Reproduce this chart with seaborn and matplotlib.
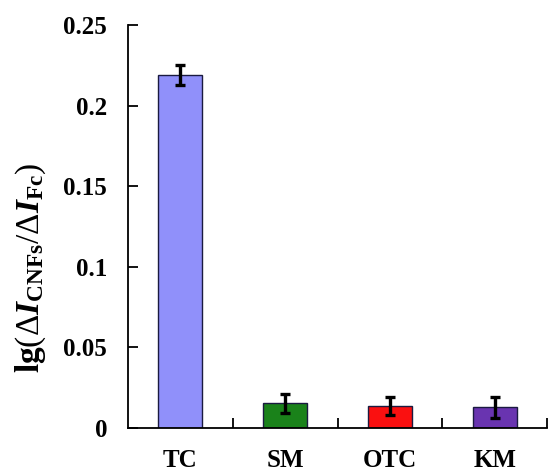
import matplotlib
matplotlib.use("Agg")
import matplotlib.pyplot as plt
import seaborn as sns
import pandas as pd
import numpy as np

categories = ["TC", "SM", "OTC", "KM"]
values = [0.219, 0.0152, 0.0138, 0.0128]
errors = [0.006, 0.006, 0.0055, 0.0065]
colors = ["#9090FA", "#1A821A", "#FA1010", "#6934B0"]
yticks = [0, 0.05, 0.1, 0.15, 0.2, 0.25]
ytick_labels = ["0", "0.05", "0.1", "0.15", "0.2", "0.25"]

sns.set_theme(style="white")
plt.rcParams["font.family"] = ["Liberation Serif", "DejaVu Serif"]
plt.rcParams["mathtext.fontset"] = "custom"
plt.rcParams["mathtext.rm"] = "Liberation Serif"
plt.rcParams["mathtext.bf"] = "Liberation Serif:bold"
plt.rcParams["mathtext.it"] = "Liberation Serif:bold:italic"

df = pd.DataFrame({"cat": categories, "val": values})

fig = plt.figure(figsize=(5.48, 4.73), dpi=100)
ax = fig.add_axes([128/548, 1-428/473, 419/548, (428-25)/473])

sns.barplot(data=df, x="cat", y="val", hue="cat", palette=colors, width=0.42,
            saturation=1, edgecolor="#1a1a40", linewidth=1.0, legend=False,
            ax=ax, errorbar=None)
ax.errorbar(np.arange(len(categories)), values, yerr=errors, fmt="none",
            ecolor="black", elinewidth=2.4, capsize=3.6, capthick=2.4, zorder=5)

ax.set_xlim(-0.5, 3.5)
ax.set_ylim(0, 0.25)
ax.set_yticks(yticks)
ax.set_yticklabels(ytick_labels)
ax.set_xticks(range(len(categories)))
ax.set_xticklabels(categories)
ax.set_xticks([0.5, 1.5, 2.5, 3.5], minor=True)

for s in ["top", "right"]:
    ax.spines[s].set_visible(False)
for s in ["left", "bottom"]:
    ax.spines[s].set_color("black")
    ax.spines[s].set_linewidth(1.3)

ax.tick_params(axis="y", which="major", direction="in", left=True, length=7,
               width=1.3, color="black", pad=15, labelsize=18)
ax.tick_params(axis="x", which="major", length=0, pad=15, labelsize=18)
ax.tick_params(axis="x", which="minor", direction="in", length=7, width=1.3,
               color="black", bottom=True)
for lab in ax.get_xticklabels() + ax.get_yticklabels():
    lab.set_fontweight("bold")
    lab.set_color("black")

ax.set_xlabel("")
ax.set_ylabel(r"$\mathbf{lg}(\Delta \mathit{I}_{\mathbf{CNFs}}/\Delta \mathit{I}_{\mathbf{Fc}})$",
              fontsize=24, color="black")
ax.yaxis.set_label_coords(-0.191, 0.397)

fig.savefig("out.png", dpi=100)
